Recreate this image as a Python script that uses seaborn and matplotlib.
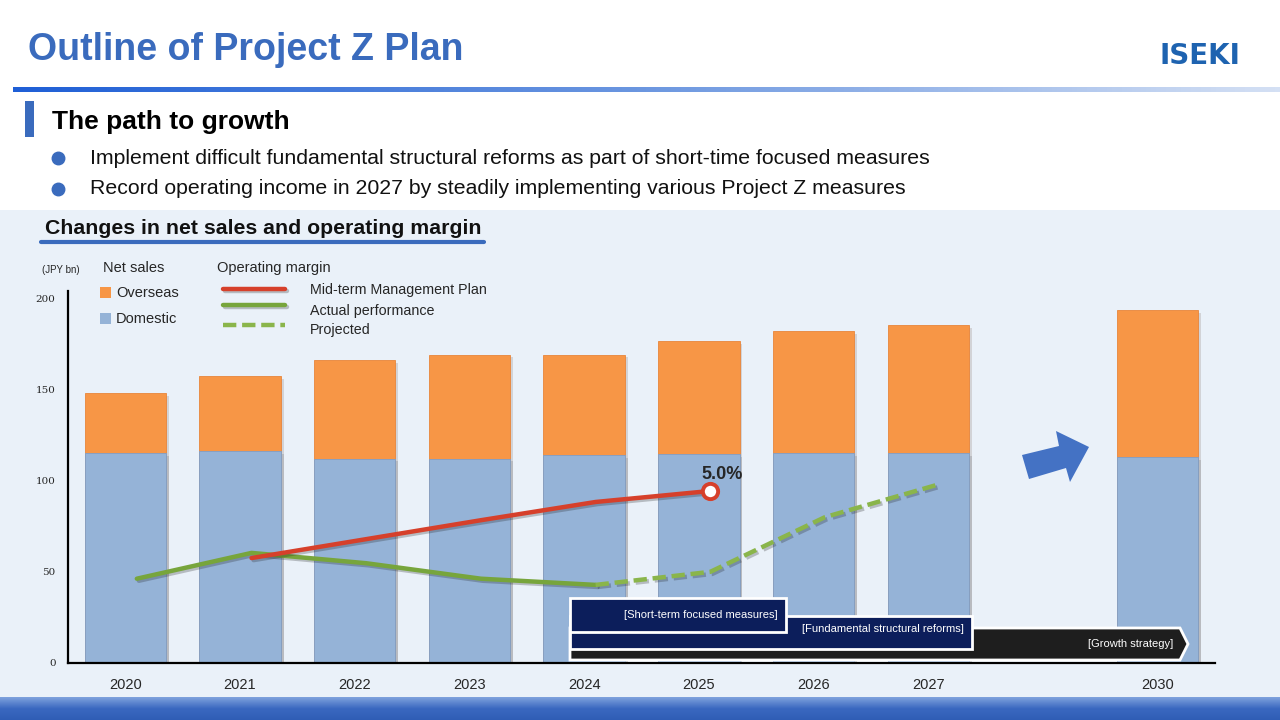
import numpy as np
import pandas as pd
import matplotlib
matplotlib.use("Agg")
import matplotlib.pyplot as plt
import seaborn as sns
from matplotlib.patches import Rectangle, Polygon
import matplotlib.patheffects as pe
from matplotlib.colors import LinearSegmentedColormap

# ---------------- data ----------------
years = ["2020", "2021", "2022", "2023", "2024", "2025", "2026", "2027", "2030"]
domestic = [115, 116, 112, 112, 114, 114.5, 115, 115, 113]
overseas = [33, 41, 54, 57, 55, 62, 67, 70, 80.5]
actual_years = ["2020", "2021", "2022", "2023", "2024"]
actual_margin = [2.45, 3.2, 2.9, 2.45, 2.27]
plan_years = ["2021", "2022", "2023", "2024", "2025"]
plan_margin = [3.05, 3.6, 4.15, 4.68, 5.0]
proj_years = ["2024", "2025", "2026", "2027"]
proj_margin = [2.27, 2.65, 4.24, 5.2]
order = years[:8] + [" "] + years[8:]
yticks = [0, 50, 100, 150, 200]

# ---------------- style ----------------
sns.set_theme(style="white")
plt.rcParams["font.family"] = ["Liberation Sans", "DejaVu Sans"]

C_OV = "#F79646"
C_DOM = "#95B3D7"
C_RED = "#D6402B"
C_GRN = "#77A53C"
C_PRJ = "#8AB54B"
C_BLUE = "#3A6BBD"
C_NAVY = "#0C1E5B"

fig = plt.figure(figsize=(12.8, 7.2), dpi=100)
fig.patch.set_facecolor("white")

# background decoration axes in pixel coordinates
bg = fig.add_axes([0, 0, 1, 1], zorder=-5)
bg.axis("off")
bg.add_patch(Rectangle((0, 210), 1280, 487, color="#EAF1F9", lw=0))
grad = np.linspace(0, 1, 256)[None, :]
cm_line = LinearSegmentedColormap.from_list("l", ["#1F5FD6", "#6C97E0", "#D4E0F4"])
bg.imshow(grad, extent=(13, 1280, 92, 87), cmap=cm_line, aspect="auto")
cm_band = LinearSegmentedColormap.from_list("b", ["#7FA2DD", "#3A68C0", "#2F5DB5"])
bg.imshow(np.linspace(0, 1, 64)[:, None], extent=(0, 1280, 720, 697), cmap=cm_band, aspect="auto", origin="upper")
bg.set_xlim(0, 1280)
bg.set_ylim(720, 0)

bg.text(28, 50, "Outline of Project Z Plan", color=C_BLUE, fontsize=27, fontweight="bold", va="center", ha="left")
bg.text(1200, 56, "ISEKI", color="#1E63B0", fontsize=20, fontweight="bold", va="center", ha="center",
        family=["DejaVu Sans"])
bg.add_patch(Rectangle((25, 101), 9, 36, color=C_BLUE, lw=0))
bg.text(52, 122, "The path to growth", color="black", fontsize=19, fontweight="bold", va="center")
bullets = ["Implement difficult fundamental structural reforms as part of short-time focused measures",
           "Record operating income in 2027 by steadily implementing various Project Z measures"]
for i, b in enumerate(bullets):
    y = 158 + 31 * i
    bg.plot([58], [y], marker="o", ms=9, color=C_BLUE, mec=C_BLUE)
    bg.text(90, y, b, fontsize=15.3, va="center", color="#111111")
bg.text(45, 229, "Changes in net sales and operating margin", fontsize=15.3, fontweight="bold",
        va="center", color="#111111")
bg.plot([41, 484], [241.5, 241.5], color=C_BLUE, lw=3, solid_capstyle="round")

# ---------------- main chart ----------------
df = pd.DataFrame({"year": years, "domestic": domestic, "overseas": overseas})
df["total"] = df["domestic"] + df["overseas"]

ax = fig.add_axes([68 / 1280, 57 / 720, 1147 / 1280, 372.3 / 720], zorder=1)
ax.patch.set_alpha(0)
shadow = [pe.SimplePatchShadow(offset=(2, -2), alpha=0.15), pe.Normal()]
sns.barplot(data=df, x="year", y="total", order=order, color=C_OV, saturation=1, width=0.71,
            errorbar=None, ax=ax, edgecolor="#E8853A", linewidth=0.6)
sns.barplot(data=df, x="year", y="domestic", order=order, color=C_DOM, saturation=1, width=0.71,
            errorbar=None, ax=ax, edgecolor="#7F9FC9", linewidth=0.6)
for p in ax.patches:
    p.set_path_effects(shadow)
ax.set_xlim(-0.5, 9.5)
ax.set_ylim(0, 204)
ax.set_yticks(yticks)
ax.set_yticklabels([str(t) for t in yticks], family=["DejaVu Serif"], fontsize=7.5)
ax.set_xlabel("")
ax.set_ylabel("")
ax.tick_params(axis="y", length=0, pad=9)
ax.tick_params(axis="x", length=0, pad=11, labelsize=10.5)
for s in ["top", "right"]:
    ax.spines[s].set_visible(False)
for s in ["left", "bottom"]:
    ax.spines[s].set_color("black")
    ax.spines[s].set_linewidth(1.6)

# operating margin on twin axis
ax2 = ax.twinx()
ax2.patch.set_alpha(0)
pos = {y: i for i, y in enumerate(order)}
off = 0.1
lshadow = [pe.SimpleLineShadow(offset=(1.5, -1.5), alpha=0.25), pe.Normal()]
sns.lineplot(x=[pos[y] + off for y in actual_years], y=actual_margin, color=C_GRN, lw=3.2, ax=ax2,
             solid_capstyle="round")
sns.lineplot(x=[pos[y] + off for y in proj_years], y=proj_margin, color=C_PRJ, lw=3.2, ax=ax2)
ax2.lines[-1].set_dashes([3, 1.3])
sns.lineplot(x=[pos[y] + off for y in plan_years], y=plan_margin, color=C_RED, lw=3.2, ax=ax2,
             solid_capstyle="round")
for ln in ax2.lines:
    ln.set_path_effects(lshadow)
ax2.plot([pos[plan_years[-1]] + off], [plan_margin[-1]], marker="o", ms=11, mfc="white",
         mec=C_RED, mew=2.8, zorder=5)
ax2.text(pos[plan_years[-1]] + off + 0.1, plan_margin[-1] + 0.22, f"{plan_margin[-1]:.1f}%",
         fontsize=13, fontweight="bold", ha="center", va="bottom")
ax2.set_ylim(0, 10.82)
ax2.set_yticks([])
ax2.set_ylabel("")
for s in ax2.spines.values():
    s.set_visible(False)

# ---------------- overlay: legend, arrow, timeline ----------------
ov = fig.add_axes([0, 0, 1, 1], zorder=5)
ov.patch.set_alpha(0)
ov.axis("off")
ov.set_xlim(0, 1280)
ov.set_ylim(720, 0)

ov.text(42, 270, "(JPY bn)", fontsize=7, va="center")
ov.text(103, 268, "Net sales", fontsize=10.5, va="center")
ov.add_patch(Rectangle((100, 287), 11, 11, color=C_OV, lw=0))
ov.text(116, 293, "Overseas", fontsize=10.5, va="center")
ov.add_patch(Rectangle((100, 313), 11, 11, color=C_DOM, lw=0))
ov.text(116, 319, "Domestic", fontsize=10.5, va="center")
ov.text(217, 268, "Operating margin", fontsize=10.5, va="center")
ov.plot([223, 285], [289, 289], color=C_RED, lw=3.2, path_effects=lshadow)
ov.plot([223, 285], [305, 305], color=C_GRN, lw=3.2, path_effects=lshadow)
l3, = ov.plot([223, 285], [325, 325], color=C_PRJ, lw=3.2)
l3.set_dashes([3, 1.3])
ov.text(310, 290, "Mid-term Management Plan", fontsize=10.3, va="center")
ov.text(310, 311, "Actual performance", fontsize=10.3, va="center")
ov.text(310, 330, "Projected", fontsize=10.3, va="center")

ov.add_patch(Polygon([(1022, 455), (1059, 446), (1056, 431), (1089, 447), (1070, 482), (1066, 468),
                      (1029, 479)], closed=True, color="#4472C4", lw=0))

ov.add_patch(Polygon([(570, 628), (1180, 628), (1188, 644), (1180, 660), (570, 660)], closed=True,
                     facecolor="#1E1E1E", edgecolor="white", lw=2))
ov.add_patch(Rectangle((570, 616), 402, 33, facecolor=C_NAVY, edgecolor="white", lw=2))
ov.add_patch(Rectangle((570, 598), 216, 34, facecolor=C_NAVY, edgecolor="white", lw=2))
ov.text(778, 615, "[Short-term focused measures]", color="white", fontsize=8, ha="right", va="center")
ov.text(964, 629, "[Fundamental structural reforms]", color="white", fontsize=8, ha="right", va="center")
ov.text(1173, 644, "[Growth strategy]", color="white", fontsize=8, ha="right", va="center")

fig.savefig("out.png", dpi=100)
